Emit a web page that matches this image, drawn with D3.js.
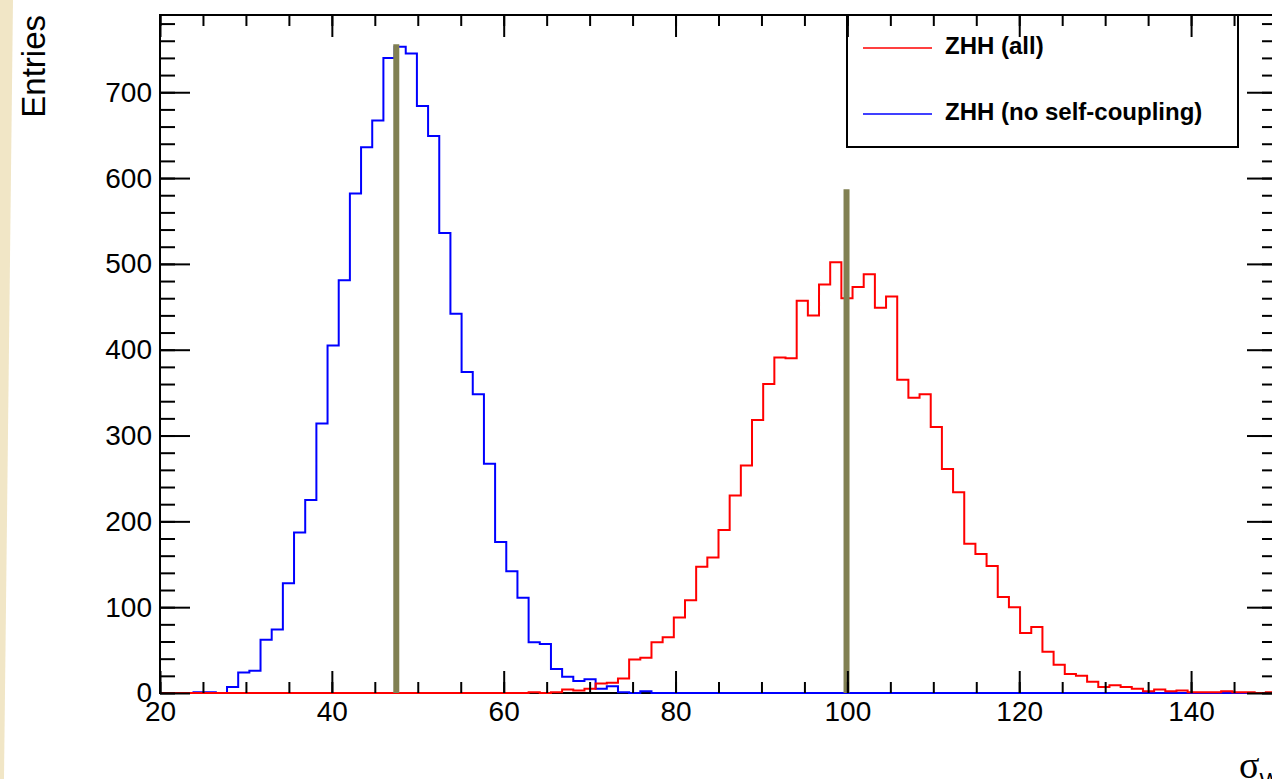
<!DOCTYPE html>
<html>
<head>
<meta charset="utf-8">
<script src="https://d3js.org/d3.v7.min.js"></script>
<style>
  html, body { margin: 0; padding: 0; background: #fff; }
  svg { display: block; font-family: "Liberation Sans", Arial, Helvetica, sans-serif; }
</style>
</head>
<body>
<svg id="chart" width="1272" height="779"></svg>
<script>
// histogram binning: 100 bins from 20 to 150
const xMin = 20, xMax = 150, nBins = 100;
const binWidth = (xMax - xMin) / nBins;

// ZHH (no self-coupling), entries per bin
const blueCounts = [
  0, 0, 0, 1, 1, 0, 7, 24, 26, 62,
  74, 128, 187, 225, 314, 405, 481, 582, 636, 667,
  740, 753, 745, 684, 649, 536, 442, 374, 348, 267,
  176, 142, 111, 59, 57, 28, 19, 14, 16, 5,
  8, 1, 0, 2, 0, 0, 0, 0, 0, 0,
  0, 0, 0, 0, 0, 0, 0, 0, 0, 0,
  0, 0, 0, 0, 0, 0, 0, 0, 0, 0,
  0, 0, 0, 0, 0, 0, 0, 0, 0, 0,
  0, 0, 0, 0, 0, 0, 0, 0, 0, 0,
  0, 0, 0, 0, 0, 0, 0, 0, 0, 0
];

// ZHH (all), entries per bin
const redCounts = [
  0, 0, 0, 0, 0, 0, 0, 0, 0, 0,
  0, 0, 0, 0, 0, 0, 0, 0, 0, 0,
  0, 0, 0, 0, 0, 0, 0, 0, 0, 0,
  0, 0, 0, 1, 0, 1, 4, 3, 5, 11,
  12, 17, 39, 41, 59, 65, 88, 108, 147, 158,
  190, 230, 265, 318, 360, 391, 390, 457, 440, 476,
  502, 460, 473, 488, 449, 462, 365, 344, 348, 310,
  261, 234, 174, 162, 148, 112, 100, 70, 77, 48,
  33, 22, 20, 13, 7, 9, 7, 5, 2, 4,
  2, 3, 1, 1, 1, 2, 1, 1, 0, 1
];

// vertical markers (position, height)
const markerX = [47.5, 99.9];
const markerTop = [756, 587];

const legendLabels = ["ZHH (all)", "ZHH (no self-coupling)"];
const legendColors = ["#ff0000", "#0000ff"];

const xMajor = d3.range(20, 141, 20);
const xMinor = d3.range(20, 151, 5);
const yMajor = d3.range(0, 701, 100);
const yMinor = d3.range(0, 781, 20);

// plot frame in pixels (right edge lies just outside the window)
var padL = 160, padR = 1277, padT = 15, padB = 693;

var svg = d3.select("#chart");

// beige slide edge on the left
svg.append("path")
    .attr("d", "M0,0 L13,0 L4,779 L0,779 Z")
    .attr("fill", "#f1e6c6");

var x = d3.scaleLinear().domain([xMin, xMax]).range([padL, padR]);
var y = d3.scaleLinear().domain([0, 790]).range([padB, padT]);

// frame first, so the histogram baselines sit on top of it
svg.append("rect")
    .attr("x", padL).attr("y", padT)
    .attr("width", padR - padL).attr("height", padB - padT)
    .attr("fill", "none")
    .attr("stroke", "#000")
    .attr("stroke-width", 2);

svg.append("defs").append("clipPath").attr("id", "plotclip")
  .append("rect")
    .attr("x", padL).attr("y", padT - 2)
    .attr("width", padR - padL).attr("height", padB - padT + 3);

function histPoints(counts) {
  let pts = counts.map((c, i) => ({ x: xMin + i * binWidth, y: c }));
  pts.push({ x: xMax, y: counts[counts.length - 1] });
  return pts;
}

var histLine = d3.line()
    .x(d => x(d.x))
    .y(d => y(d.y))
    .curve(d3.curveStepAfter);

var plot = svg.append("g").attr("clip-path", "url(#plotclip)");

plot.append("path")
    .datum(histPoints(blueCounts))
    .attr("d", histLine)
    .attr("fill", "none")
    .attr("stroke", "#0000ff")
    .attr("stroke-width", 2);

plot.append("path")
    .datum(histPoints(redCounts))
    .attr("d", histLine)
    .attr("fill", "none")
    .attr("stroke", "#ff0000")
    .attr("stroke-width", 2);

plot.selectAll(".marker")
  .data(markerX)
  .enter().append("line")
    .attr("class", "marker")
    .attr("x1", d => x(d)).attr("x2", d => x(d))
    .attr("y1", y(0))
    .attr("y2", (d, i) => y(markerTop[i]))
    .attr("stroke", "#818052")
    .attr("stroke-width", 6);

// axes: ROOT style, ticks pointing inwards on all four sides
function styleAxis(g) {
  g.select(".domain").remove();
  g.selectAll(".tick line").attr("stroke", "#000").attr("stroke-width", 2);
  g.selectAll(".tick text").attr("fill", "#000").style("font-size", "28px")
    .style("font-family", "'Liberation Sans', Arial, sans-serif");
}

svg.append("g").attr("transform", `translate(0,${padB})`)
    .call(d3.axisBottom(x).tickValues(xMinor).tickSize(-11).tickFormat(""))
    .call(styleAxis);
svg.append("g").attr("transform", `translate(0,${padB})`)
    .call(d3.axisBottom(x).tickValues(xMajor).tickSize(-22).tickPadding(8).tickFormat(d3.format("d")))
    .call(styleAxis);

svg.append("g").attr("transform", `translate(0,${padT})`)
    .call(d3.axisTop(x).tickValues(xMinor).tickSize(-11).tickFormat(""))
    .call(styleAxis);
svg.append("g").attr("transform", `translate(0,${padT})`)
    .call(d3.axisTop(x).tickValues(xMajor).tickSize(-22).tickFormat(""))
    .call(styleAxis);

svg.append("g").attr("transform", `translate(${padL},0)`)
    .call(d3.axisLeft(y).tickValues(yMinor).tickSize(-15).tickFormat(""))
    .call(styleAxis);
svg.append("g").attr("transform", `translate(${padL},0)`)
    .call(d3.axisLeft(y).tickValues(yMajor).tickSize(-30).tickPadding(8).tickFormat(d3.format("d")))
    .call(styleAxis);

svg.append("g").attr("transform", `translate(${padR},0)`)
    .call(d3.axisRight(y).tickValues(yMinor).tickSize(-15).tickFormat(""))
    .call(styleAxis);
svg.append("g").attr("transform", `translate(${padR},0)`)
    .call(d3.axisRight(y).tickValues(yMajor).tickSize(-30).tickFormat(""))
    .call(styleAxis);

// axis titles
svg.append("text")
    .attr("transform", "translate(45,15) rotate(-90)")
    .attr("text-anchor", "end")
    .style("font-size", "33px")
    .text("Entries");

var xt = svg.append("text")
    .attr("x", 1239).attr("y", 778)
    .style("font-family", "'Liberation Serif', 'Times New Roman', serif")
    .style("font-size", "38px")
    .text("σ");
xt.append("tspan")
    .attr("dy", 10)
    .style("font-family", "'Liberation Sans', Arial, sans-serif")
    .style("font-size", "22px")
    .text("W");

// legend
var legend = svg.append("g");
legend.append("rect")
    .attr("x", 847).attr("y", 15)
    .attr("width", 391).attr("height", 132)
    .attr("fill", "none")
    .attr("stroke", "#000")
    .attr("stroke-width", 2);

var rows = legend.selectAll(".row")
  .data(legendLabels)
  .enter().append("g")
    .attr("class", "row")
    .attr("transform", (d, i) => `translate(0,${48 + i * 66})`);

rows.append("line")
    .attr("x1", 863).attr("x2", 932)
    .attr("stroke", (d, i) => legendColors[i])
    .attr("stroke-width", 1.5);

rows.append("text")
    .attr("x", 945).attr("y", 6)
    .style("font-size", "24px")
    .style("font-weight", "bold")
    .text(d => d);
</script>
</body>
</html>
